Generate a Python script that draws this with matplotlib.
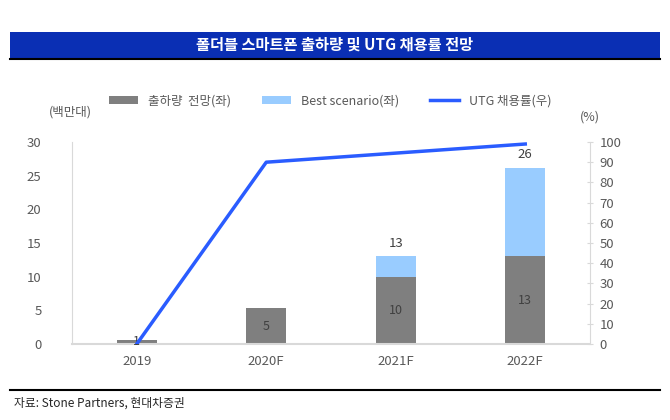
import numpy as np
import matplotlib.pyplot as plt
from matplotlib.patches import Rectangle
from matplotlib.lines import Line2D

plt.rcParams['font.family'] = ['Noto Sans CJK KR', 'DejaVu Sans']

# data
years = ["2019", "2020F", "2021F", "2022F"]
shipments = [0.6, 5.3, 10.0, 13.0]          # 출하량 전망 (백만대)
best_extra = [0, 0, 3.0, 13.2]              # Best scenario on top
shipment_labels = ["1", "5", "10", "13"]
total_labels = ["", "", "13", "26"]
utg_rate = [0, 90, 94.5, 99]                # UTG 채용률 (%)

gray = "#7f7f7f"
light_blue = "#99ccff"
line_blue = "#2a5cff"
text_gray = "#595959"

fig = plt.figure(figsize=(6.7, 4.2), dpi=100)

# title bar
fig.add_artist(Rectangle((10/670, 1 - 58/420), 650/670, 26/420,
                         transform=fig.transFigure, color="#0a2fb4", lw=0))
fig.add_artist(Line2D([10/670, 660/670], [1 - 59/420, 1 - 59/420],
                      transform=fig.transFigure, color="black", lw=1.5))
fig.text(0.5, 1 - 45/420, "폴더블 스마트폰 출하량 및 UTG 채용률 전망",
         color="white", fontsize=11, fontweight="bold", ha="center", va="center")

ax = fig.add_axes([72/670, 1 - 344/420, 518/670, 202/420])
x = np.arange(len(years))
w = 0.31
ax.bar(x, shipments, w, color=gray, label="출하량  전망(좌)", zorder=2)
ax.bar(x, best_extra, w, bottom=shipments, color=light_blue,
       label="Best scenario(좌)", zorder=2)

for i in range(len(years)):
    ax.text(x[i], shipments[i] / 2 if shipments[i] > 2 else 0.4, shipment_labels[i],
            ha="center", va="center", fontsize=9, color="#404040", zorder=3)
    if total_labels[i]:
        ax.text(x[i], shipments[i] + best_extra[i] + 1.0, total_labels[i],
                ha="center", va="bottom", fontsize=9.5, color="#404040")

ax.set_xlim(-0.5, 3.5)
ax.set_ylim(0, 30)
ax.set_yticks(np.arange(0, 31, 5))
ax.set_xticks(x)
ax.set_xticklabels(years)
for s in ["top", "right"]:
    ax.spines[s].set_visible(False)
ax.spines["left"].set_color("#d9d9d9")
ax.spines["bottom"].set_color("#d9d9d9")
ax.spines["bottom"].set_linewidth(1.5)
ax.tick_params(axis="y", length=0, colors=text_gray, labelsize=9.5, pad=22)
ax.tick_params(axis="x", length=0, colors=text_gray, labelsize=9.5, pad=8)

ax2 = ax.twinx()
ax2.plot(x, utg_rate, color=line_blue, lw=2.5, label="UTG 채용률(우)", zorder=4)
ax2.set_ylim(0, 100)
ax2.set_yticks(np.arange(0, 101, 10))
for s in ["top", "left", "bottom"]:
    ax2.spines[s].set_visible(False)
ax2.spines["right"].set_color("#d9d9d9")
ax2.tick_params(axis="y", direction="inout", length=4, color="#d9d9d9",
                colors=text_gray, labelsize=9.5, pad=5)
for lab in ax2.get_yticklabels():
    lab.set_color(text_gray)

h1, l1 = ax.get_legend_handles_labels()
h2, l2 = ax2.get_legend_handles_labels()
fig.legend(h1 + h2, l1 + l2, ncol=3, frameon=False, fontsize=9,
           loc="center", bbox_to_anchor=(330/670, 1 - 101/420),
           handlelength=2.3, handleheight=0.6, columnspacing=2.5,
           labelcolor=text_gray)

fig.text(70/670, 1 - 112/420, "(백만대)", fontsize=9, color=text_gray,
         ha="center", va="center")
fig.text(590/670, 1 - 117/420, "(%)", fontsize=9, color=text_gray,
         ha="center", va="center")

# source line
fig.add_artist(Line2D([10/670, 660/670], [1 - 390/420, 1 - 390/420],
                      transform=fig.transFigure, color="black", lw=1.5))
fig.text(14/670, 1 - 403/420, "자료: Stone Partners, 현대차증권", fontsize=8.5,
         color="#262626", ha="left", va="center")

fig.savefig("out.png", dpi=100)
